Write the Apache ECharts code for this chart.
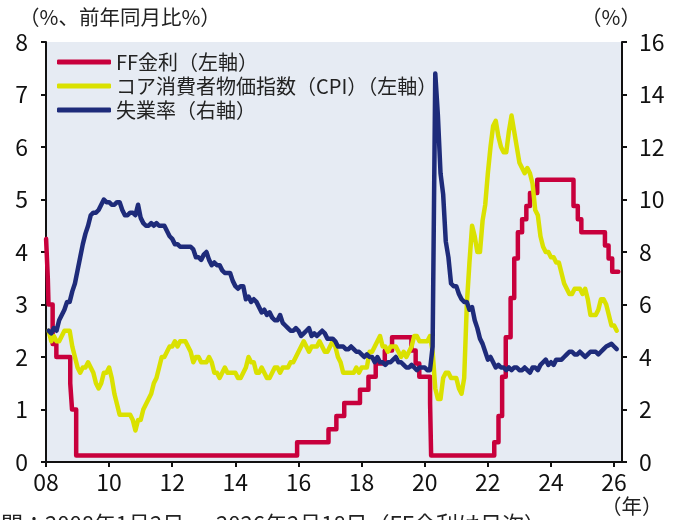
<!DOCTYPE html>
<html><head><meta charset="utf-8">
<script src="https://cdn.jsdelivr.net/npm/echarts@6/dist/echarts.min.js"></script>
<style>html,body{margin:0;padding:0;background:#fff}#c{width:680px;height:520px}</style>
</head><body><div id="c"></div><script>
// ---- data ----
const xTickYears = [2008, 2010, 2012, 2014, 2016, 2018, 2020, 2022, 2024, 2026];
const seriesNames = ['FF金利（左軸）', 'コア消費者物価指数（CPI）（左軸）', '失業率（右軸）'];
// FF rate (target / midpoint of range), change dates
const ffDates = ['2008-01-02','2008-01-22','2008-01-30','2008-03-18','2008-04-30','2008-10-08','2008-10-29','2008-12-16',
  '2015-12-16','2016-12-14','2017-03-15','2017-06-14','2017-12-13','2018-03-21','2018-06-13','2018-09-26','2018-12-19',
  '2019-07-31','2019-09-18','2019-10-30','2020-03-03','2020-03-15',
  '2022-03-16','2022-05-04','2022-06-15','2022-07-27','2022-09-21','2022-11-02','2022-12-14','2023-02-01','2023-03-22','2023-05-03','2023-07-26',
  '2024-09-18','2024-11-07','2024-12-18','2025-09-17','2025-10-29','2025-12-10','2026-02-18'];
const ffRates = [4.25,3.5,3.0,2.25,2.0,1.5,1.0,0.125,
  0.375,0.625,0.875,1.125,1.375,1.625,1.875,2.125,2.375,
  2.125,1.875,1.625,1.125,0.125,
  0.375,0.875,1.625,2.375,3.125,3.875,4.375,4.625,4.875,5.125,5.375,
  4.875,4.625,4.375,4.125,3.875,3.625,3.625];
// monthly, Jan 2008 - Jan 2026 (null = not published)
const coreCPI = [
  2.5,2.3,2.4,2.3,2.3,2.4,2.5,2.5,2.5,2.2,2.0,1.8,
  1.7,1.8,1.8,1.9,1.8,1.7,1.5,1.4,1.5,1.7,1.7,1.8,
  1.6,1.3,1.1,0.9,0.9,0.9,0.9,0.9,0.8,0.6,0.8,0.8,
  1.0,1.1,1.2,1.3,1.5,1.6,1.8,2.0,2.0,2.1,2.2,2.2,
  2.3,2.2,2.3,2.3,2.3,2.2,2.1,1.9,2.0,2.0,1.9,1.9,
  1.9,2.0,1.9,1.7,1.7,1.6,1.7,1.8,1.7,1.7,1.7,1.7,
  1.6,1.6,1.7,1.8,2.0,1.9,1.9,1.7,1.7,1.8,1.7,1.6,
  1.6,1.7,1.8,1.8,1.7,1.8,1.8,1.8,1.9,1.9,2.0,2.1,
  2.2,2.3,2.2,2.1,2.2,2.2,2.2,2.3,2.2,2.1,2.1,2.2,
  2.3,2.2,2.0,1.9,1.7,1.7,1.7,1.7,1.7,1.8,1.7,1.8,
  1.8,1.8,2.1,2.1,2.2,2.3,2.4,2.2,2.2,2.1,2.2,2.2,
  2.2,2.1,2.0,2.1,2.0,2.1,2.2,2.4,2.4,2.3,2.3,2.3,
  2.3,2.4,2.1,1.4,1.2,1.2,1.6,1.7,1.7,1.6,1.6,1.6,
  1.4,1.3,1.6,3.0,3.8,4.5,4.3,4.0,4.0,4.6,4.9,5.5,
  6.0,6.4,6.5,6.2,6.0,5.9,5.9,6.3,6.6,6.3,6.0,5.7,
  5.6,5.5,5.6,5.5,5.3,4.8,4.7,4.3,4.1,4.0,4.0,3.9,
  3.9,3.8,3.8,3.6,3.4,3.3,3.2,3.2,3.3,3.3,3.3,3.2,
  3.3,3.1,2.8,2.8,2.8,2.9,3.1,3.1,3.0,null,2.6,2.6,
  2.5];
const unemployment = [
  5.0,4.9,5.1,5.0,5.4,5.6,5.8,6.1,6.1,6.5,6.8,7.3,
  7.8,8.3,8.7,9.0,9.4,9.5,9.5,9.6,9.8,10.0,9.9,9.9,
  9.8,9.8,9.9,9.9,9.6,9.4,9.4,9.5,9.5,9.4,9.8,9.3,
  9.1,9.0,9.0,9.1,9.0,9.1,9.0,9.0,9.0,8.8,8.6,8.5,
  8.3,8.3,8.2,8.2,8.2,8.2,8.2,8.1,7.8,7.8,7.7,7.9,
  8.0,7.7,7.5,7.6,7.5,7.5,7.3,7.2,7.2,7.2,6.9,6.7,
  6.6,6.7,6.7,6.2,6.3,6.1,6.2,6.1,5.9,5.7,5.8,5.6,
  5.7,5.5,5.4,5.4,5.6,5.3,5.2,5.1,5.0,5.0,5.1,5.0,
  4.8,4.9,5.0,5.1,4.8,4.9,4.8,4.9,5.0,4.9,4.7,4.7,
  4.7,4.6,4.4,4.4,4.4,4.3,4.3,4.4,4.3,4.2,4.2,4.1,
  4.0,4.1,4.0,4.0,3.8,4.0,3.8,3.8,3.7,3.8,3.8,3.9,
  4.0,3.8,3.8,3.7,3.6,3.6,3.7,3.6,3.5,3.6,3.6,3.6,
  3.5,3.5,4.4,14.8,13.2,11.0,10.2,8.4,7.8,6.8,6.7,6.7,
  6.4,6.2,6.1,6.1,5.8,5.9,5.4,5.1,4.7,4.5,4.2,3.9,
  4.0,3.8,3.6,3.7,3.6,3.6,3.5,3.6,3.5,3.6,3.6,3.5,
  3.5,3.6,3.5,3.4,3.6,3.6,3.5,3.7,3.8,3.9,3.7,3.8,
  3.7,3.9,3.9,3.9,4.0,4.1,4.2,4.2,4.1,4.1,4.2,4.1,
  4.0,4.1,4.2,4.2,4.2,4.1,4.2,4.3,4.4,null,4.5,4.4,
  4.3];
const startYear = 2008;

// ---- helpers ----
function decYear(s) {
  const d = new Date(s + 'T00:00:00Z');
  const y = d.getUTCFullYear();
  const a = Date.UTC(y, 0, 1), b = Date.UTC(y + 1, 0, 1);
  return y + (d.getTime() - a) / (b - a);
}
function monthly(arr) {
  const out = [];
  arr.forEach((v, i) => { if (v !== null) out.push([startYear + (i + 1) / 12, v]); });
  return out;
}
const ffData = ffDates.map((d, i) => [decYear(d), ffRates[i]]);

const FONT = '"Noto Sans CJK JP", "Noto Sans", sans-serif';
const RED = '#C8003C', YEL = '#DAE100', BLUE = '#1E2B7A';

const chart = echarts.init(document.getElementById('c'), null, {renderer: 'canvas'});
const axisLineStyle = {color: '#111', width: 2};
chart.setOption({
  animation: false,
  textStyle: {fontFamily: FONT},
  grid: {left: 46, top: 42, width: 576, height: 420, show: true, backgroundColor: '#E6EBF3', borderWidth: 0},
  legend: {
    orient: 'vertical', left: 52, top: 47, itemWidth: 54, itemHeight: 5, itemGap: 4,
    icon: 'roundRect', selectedMode: false,
    data: seriesNames,
    textStyle: {fontSize: 20, color: '#222', fontFamily: FONT}
  },
  xAxis: {
    type: 'value', min: 2008, max: 2026.25, interval: 2,
    axisLine: {show: true, lineStyle: axisLineStyle},
    axisTick: {show: true, length: 5, lineStyle: axisLineStyle, customValues: xTickYears},
    axisLabel: {customValues: xTickYears, fontSize: 23, color: '#111', margin: 9, fontFamily: FONT,
      formatter: v => String(Math.round(v)).slice(2)},
    splitLine: {show: false}
  },
  yAxis: [
    {type: 'value', min: 0, max: 8, interval: 1, position: 'left',
      axisLine: {show: true, lineStyle: axisLineStyle},
      axisTick: {show: true, length: 5, lineStyle: axisLineStyle},
      axisLabel: {fontSize: 23, color: '#111', margin: 18, fontFamily: FONT},
      splitLine: {show: false}},
    {type: 'value', min: 0, max: 16, interval: 2, position: 'right',
      axisLine: {show: true, lineStyle: axisLineStyle},
      axisTick: {show: true, length: 5, lineStyle: axisLineStyle},
      axisLabel: {fontSize: 23, color: '#111', margin: 17, fontFamily: FONT},
      splitLine: {show: false}}
  ],
  series: [
    {name: seriesNames[0], type: 'line', yAxisIndex: 0, step: 'end', data: ffData, showSymbol: false,
      lineStyle: {color: RED, width: 4.5, cap: 'round', join: 'round'}, itemStyle: {color: RED}},
    {name: seriesNames[1], type: 'line', yAxisIndex: 0, data: monthly(coreCPI), showSymbol: false,
      lineStyle: {color: YEL, width: 4.5, cap: 'round', join: 'round'}, itemStyle: {color: YEL}},
    {name: seriesNames[2], type: 'line', yAxisIndex: 1, data: monthly(unemployment), showSymbol: false,
      lineStyle: {color: BLUE, width: 4.5, cap: 'round', join: 'round'}, itemStyle: {color: BLUE}}
  ],
  graphic: [
    {type: 'text', left: 19, top: 7, style: {text: '（%、前年同月比%）', fontSize: 20.5, fill: '#222', fontFamily: FONT}},
    {type: 'text', left: 581, top: 7, style: {text: '（%）', fontSize: 20.5, fill: '#222', fontFamily: FONT}},
    {type: 'text', left: 601, top: 496, style: {text: '（年）', fontSize: 20.5, fill: '#222', fontFamily: FONT}},
    {type: 'text', left: -21, top: 513, style: {text: '期間：2008年1月2日 ～ 2026年2月18日（FF金利は日次）', fontSize: 22, fill: '#222', fontFamily: FONT}}
  ]
});
</script></body></html>
